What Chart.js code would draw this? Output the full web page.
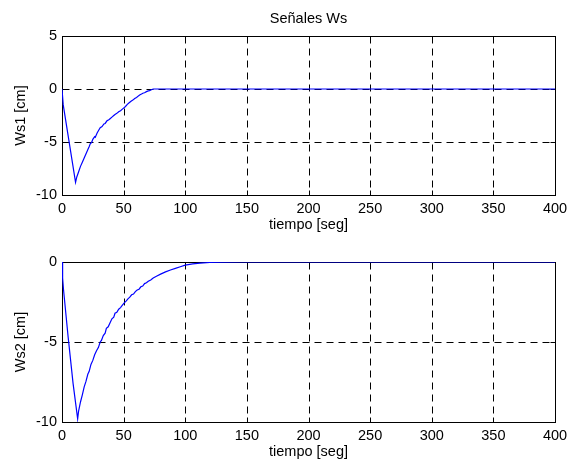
<!DOCTYPE html>
<html><head><meta charset="utf-8">
<script src="https://cdn.jsdelivr.net/npm/chart.js@4"></script>
<style>
html,body{margin:0;padding:0;background:#fff;}
#wrap{position:relative;width:568px;height:461px;background:#fff;}
canvas{position:absolute;left:0;top:0;}
</style>
</head><body>
<div id="wrap"><canvas id="c1" width="568" height="461"></canvas><canvas id="c2" width="568" height="461"></canvas></div>
<script>
const titleText = 'Señales Ws';
const xLabel = 'tiempo [seg]';
const yLabel1 = 'Ws1 [cm]';
const yLabel2 = 'Ws2 [cm]';
const xTicks = [0, 50, 100, 150, 200, 250, 300, 350, 400];
const y1Ticks = [-10, -5, 0, 5];
const y2Ticks = [-10, -5, 0];

const t1 = [0, 1, 11, 12, 13.5, 15, 16.5, 18, 19.5, 21, 22, 23, 24, 25, 26.5, 27, 28.5, 30, 31, 32.5, 34, 35, 36.5, 38, 39, 40.5, 42, 43, 44.5, 46, 47.5, 49, 50, 51.5, 53, 54.5, 56, 57.5, 59, 60.5, 62, 63, 64.5, 66, 67, 68.5, 70, 71, 72.5, 74, 75, 400];
const ws1 = [0, -1.5, -8.8, -8.3, -7.8, -7.3, -6.9, -6.5, -6.1, -5.7, -5.45, -5.15, -5.05, -4.75, -4.5, -4.55, -4.15, -3.85, -3.65, -3.55, -3.3, -3.25, -3.0, -2.9, -2.8, -2.65, -2.5, -2.4, -2.3, -2.15, -2.05, -1.9, -1.8, -1.65, -1.45, -1.3, -1.15, -1.05, -0.9, -0.8, -0.65, -0.57, -0.48, -0.38, -0.35, -0.25, -0.18, -0.15, -0.07, 0, 0, 0];

const t2 = [0, 0.5, 1.2, 5, 9, 12.7, 13.5, 15, 16.5, 18, 19.5, 21, 22, 23.5, 25, 26.5, 28, 29.5, 31, 32, 33.5, 35, 36, 37.5, 39, 40.5, 42, 43, 44.5, 46, 47.5, 49, 50.5, 52, 53.5, 55, 56.5, 58, 59.5, 61, 62.5, 64, 65.5, 67, 68.5, 70, 72, 74, 77, 80, 84, 88, 92, 96, 100, 106, 112, 120, 130, 145, 400];
const ws2 = [0, -1.0, -1.7, -4.7, -7.6, -9.8, -9.3, -8.75, -8.3, -7.8, -7.45, -7.0, -6.85, -6.4, -6.15, -5.8, -5.55, -5.35, -5.0, -4.9, -4.6, -4.45, -4.15, -4.05, -3.8, -3.55, -3.45, -3.2, -3.15, -2.95, -2.85, -2.7, -2.55, -2.45, -2.3, -2.2, -2.05, -2.0, -1.85, -1.75, -1.7, -1.55, -1.5, -1.35, -1.3, -1.2, -1.12, -1.0, -0.88, -0.76, -0.62, -0.5, -0.4, -0.3, -0.2, -0.12, -0.07, -0.03, -0.01, 0, 0];

const FONT = "'Liberation Sans', Arial, Helvetica, sans-serif";
const FS = 14.5;

const boxGrid = {
  id: 'boxGrid',
  beforeDatasetsDraw(chart) {
    const {ctx, chartArea: a} = chart;
    const xs = chart.scales.x, ys = chart.scales.y;
    const L = Math.round(a.left) + 0.5, R = Math.round(a.right) + 0.5;
    const T = Math.round(a.top) + 0.5, B = Math.round(a.bottom) + 0.5;
    ctx.save();
    ctx.lineWidth = 1;
    ctx.strokeStyle = '#000';
    ctx.setLineDash([7, 5]);
    ctx.beginPath();
    xs.ticks.forEach(t => {
      const px = Math.round(xs.getPixelForValue(t.value)) + 0.5;
      if (px > L + 1 && px < R - 1) { ctx.moveTo(px, T); ctx.lineTo(px, B); }
    });
    ys.ticks.forEach(t => {
      const py = Math.round(ys.getPixelForValue(t.value)) + 0.5;
      if (py > T + 1 && py < B - 1) { ctx.moveTo(L, py); ctx.lineTo(R, py); }
    });
    ctx.stroke();
    ctx.setLineDash([]);
    const tl = 5;
    ctx.beginPath();
    xs.ticks.forEach(t => {
      const px = Math.round(xs.getPixelForValue(t.value)) + 0.5;
      ctx.moveTo(px, B); ctx.lineTo(px, B - tl);
      ctx.moveTo(px, T); ctx.lineTo(px, T + tl);
    });
    ys.ticks.forEach(t => {
      const py = Math.round(ys.getPixelForValue(t.value)) + 0.5;
      ctx.moveTo(L, py); ctx.lineTo(L + tl, py);
      ctx.moveTo(R, py); ctx.lineTo(R - tl, py);
    });
    ctx.stroke();
    ctx.strokeRect(L, T, R - L, B - T);
    ctx.restore();
  }
};

function makeChart(id, tArr, vArr, yMin, yMax, yTicks, yLabel, withTitle, padding) {
  const pts = tArr.map((t, i) => ({x: t, y: vArr[i]}));
  return new Chart(document.getElementById(id), {
    type: 'line',
    data: { datasets: [{ data: pts, borderColor: '#0000ff', borderWidth: 1.2, pointRadius: 0, tension: 0, fill: false }] },
    options: {
      responsive: false,
      animation: false,
      events: [],
      layout: { padding: padding },
      plugins: {
        legend: { display: false },
        tooltip: { enabled: false },
        title: {
          display: withTitle,
          text: titleText,
          fullSize: false,
          color: '#000',
          font: { family: FONT, size: FS, weight: 'normal', lineHeight: 1.2 },
          padding: { top: 10, bottom: 8.6 }
        }
      },
      scales: {
        x: {
          type: 'linear', min: 0, max: 400,
          afterBuildTicks: s => { s.ticks = xTicks.map(v => ({value: v})); },
          afterFit: s => { s.height = 39; s.paddingLeft = 0; s.paddingRight = 0; },
          grid: { display: false, drawTicks: false },
          border: { display: false },
          ticks: { color: '#000', padding: 5, maxRotation: 0, autoSkip: false, font: { family: FONT, size: FS, lineHeight: 1.2 }, callback: v => String(v) },
          title: { display: true, text: xLabel, color: '#000', font: { family: FONT, size: FS, lineHeight: 1.2 }, padding: { top: 0.8, bottom: 0.8 } }
        },
        y: {
          type: 'linear', min: yMin, max: yMax,
          afterBuildTicks: s => { s.ticks = yTicks.map(v => ({value: v})); },
          afterFit: s => { s.width = 62; s.paddingTop = 0; s.paddingBottom = 0; },
          grid: { display: false, drawTicks: false },
          border: { display: false },
          ticks: { color: '#000', padding: 5, autoSkip: false, font: { family: FONT, size: FS, lineHeight: 1.2 }, callback: v => String(v) },
          title: { display: true, text: yLabel, color: '#000', font: { family: FONT, size: FS, lineHeight: 1.2 }, padding: { top: 12.3, bottom: 12.3 } }
        }
      }
    },
    plugins: [boxGrid]
  });
}

makeChart('c1', t1, ws1, -10, 5, y1Ticks, yLabel1, true, { left: 0, right: 13, top: 0, bottom: 227 });
makeChart('c2', t2, ws2, -10, 0, y2Ticks, yLabel2, false, { left: 0, right: 13, top: 262, bottom: 0 });
</script>
</body></html>
